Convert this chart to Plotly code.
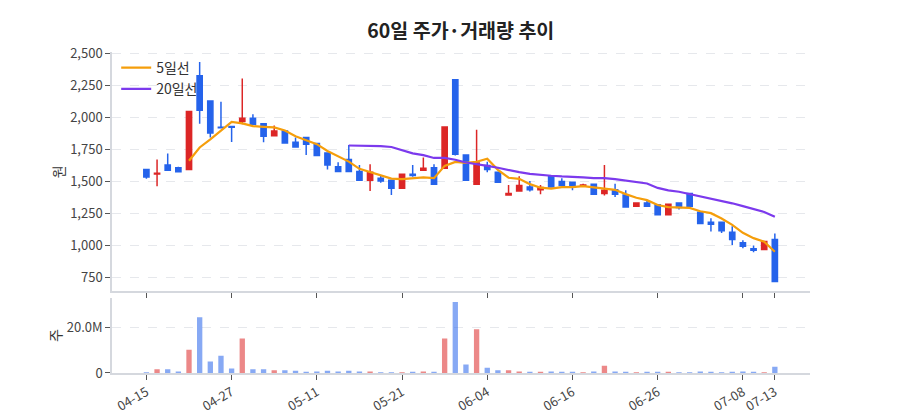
import plotly.graph_objects as go
import pandas as pd

dates = [
    "04-15", "04-16", "04-17", "04-20", "04-21", "04-22", "04-23", "04-24", "04-27",
    "04-28", "04-29", "04-30", "05-04", "05-06", "05-07", "05-08", "05-11",
    "05-12", "05-13", "05-14", "05-15", "05-18", "05-19", "05-20", "05-21",
    "05-22", "05-25", "05-26", "05-27", "05-28", "06-02", "06-03", "06-04",
    "06-05", "06-08", "06-09", "06-10", "06-11", "06-12", "06-15", "06-16",
    "06-17", "06-18", "06-19", "06-22", "06-23", "06-24", "06-25", "06-26",
    "06-29", "06-30", "07-01", "07-02", "07-03", "07-06", "07-07", "07-08",
    "07-09", "07-10", "07-13",
]

open_ = [1594, 1560, 1630, 1609, 1594, 2328, 2130, 1925, 1930, 1969,
         1995, 1953, 1859, 1896, 1807, 1844, 1797, 1724, 1615, 1672,
         1578, 1510, 1526, 1510, 1448, 1557, 1589, 1609, 1604, 2297,
         1708, 1479, 1625, 1573, 1396, 1427, 1458, 1437, 1542, 1500,
         1495, 1464, 1479, 1406, 1437, 1396, 1307, 1333, 1318, 1240,
         1333, 1406, 1260, 1182, 1182, 1104, 1021, 974, 969, 1047]
high = [1598, 1672, 1719, 1615, 2047, 2435, 2130, 2125, 1935, 2305,
        2026, 1953, 1938, 1896, 1844, 1844, 1800, 1724, 1651, 1786,
        1630, 1635, 1547, 1516, 1557, 1630, 1688, 1635, 1927, 2297,
        1708, 1906, 1656, 1573, 1474, 1542, 1505, 1474, 1542, 1526,
        1495, 1484, 1484, 1630, 1484, 1432, 1338, 1349, 1318, 1328,
        1333, 1406, 1260, 1214, 1182, 1151, 1042, 1000, 1031, 1094]
low = [1523, 1464, 1583, 1573, 1594, 1953, 1844, 1915, 1810, 1948,
       1948, 1807, 1859, 1802, 1771, 1708, 1703, 1594, 1578, 1573,
       1505, 1427, 1490, 1396, 1448, 1537, 1589, 1479, 1599, 1703,
       1505, 1479, 1573, 1495, 1396, 1427, 1422, 1401, 1458, 1465,
       1432, 1458, 1401, 1391, 1380, 1297, 1302, 1307, 1235, 1240,
       1281, 1307, 1172, 1110, 1099, 1005, 979, 948, 969, 719]
close = [1536, 1565, 1589, 1576, 2047, 2057, 1880, 1920, 1925, 1995,
         1948, 1854, 1896, 1802, 1771, 1792, 1703, 1630, 1578, 1578,
         1510, 1573, 1505, 1448, 1557, 1547, 1604, 1479, 1927, 1714,
         1510, 1645, 1594, 1495, 1406, 1469, 1437, 1453, 1458, 1469,
         1469, 1474, 1401, 1432, 1401, 1302, 1333, 1307, 1240, 1323,
         1297, 1307, 1172, 1167, 1115, 1047, 995, 964, 1031, 719]
volume_m = [0.3, 1.6, 1.6, 0.7, 10.1, 24.3, 5.0, 7.5, 2.0, 15.0,
            1.6, 1.6, 1.2, 1.2, 1.0, 0.6, 0.7, 1.0, 0.7, 1.0,
            0.7, 0.7, 0.3, 0.3, 0.3, 0.6, 0.7, 0.6, 15.0, 30.9,
            3.7, 19.1, 2.3, 1.2, 1.2, 0.7, 0.6, 0.6, 0.7, 0.6,
            0.6, 0.3, 0.7, 3.2, 0.7, 0.6, 0.3, 0.6, 0.6, 0.6,
            0.3, 0.3, 0.7, 0.6, 0.3, 0.6, 0.7, 0.6, 0.3, 2.7]

tick_dates = ["04-15", "04-27", "05-11", "05-21", "06-04", "06-16", "06-26", "07-08", "07-13"]
price_ticks = [750, 1000, 1250, 1500, 1750, 2000, 2250, 2500]

RED = "#dc2626"
BLUE = "#2563eb"
RED_V = "rgba(220,38,38,0.55)"
BLUE_V = "rgba(37,99,235,0.55)"
ORANGE = "#f59e0b"
PURPLE = "#7c3aed"
FONT = "Noto Sans CJK KR"

volume = [v * 1e6 for v in volume_m]
ma5 = pd.Series(close).rolling(5).mean()
ma20 = pd.Series(close).rolling(20).mean()
vol_colors = [RED_V if c >= o else BLUE_V for o, c in zip(open_, close)]

fig = go.Figure()
fig.add_trace(go.Candlestick(
    x=dates, open=open_, high=high, low=low, close=close,
    increasing=dict(line=dict(color=RED, width=1.5), fillcolor=RED),
    decreasing=dict(line=dict(color=BLUE, width=1.5), fillcolor=BLUE),
    showlegend=False, xaxis="x", yaxis="y",
))
fig.add_trace(go.Scatter(x=dates, y=ma5, mode="lines", name="5일선",
                         line=dict(color=ORANGE, width=2.2), xaxis="x", yaxis="y"))
fig.add_trace(go.Scatter(x=dates, y=ma20, mode="lines", name="20일선",
                         line=dict(color=PURPLE, width=2.2), xaxis="x", yaxis="y"))
fig.add_trace(go.Bar(x=dates, y=volume, marker=dict(color=vol_colors, line=dict(width=0)),
                     width=0.5, showlegend=False, xaxis="x2", yaxis="y2"))

xrange = [-3.23, 62.3]
axis_common = dict(showline=True, linecolor="#d5d8de", linewidth=1.5, automargin=False,
                   ticks="outside", ticklen=5, tickcolor="#555", tickwidth=1,
                   tickfont=dict(family=FONT, size=13, color="#444"))

fig.update_layout(
    width=900, height=420,
    margin=dict(l=112, r=90, t=52, b=47),
    paper_bgcolor="white", plot_bgcolor="white",
    font=dict(family=FONT, color="#333"),
    title=dict(text="<b>60일 주가·거래량 추이</b>", x=0.512, xanchor="center", y=0.925, yanchor="middle",
               font=dict(family=FONT, size=19.5, color="#222")),
    legend=dict(x=0.006, y=1.0, xanchor="left", yanchor="top", bgcolor="rgba(0,0,0,0)",
                font=dict(family=FONT, size=14, color="#333"), tracegroupgap=0),
    showlegend=True,
    xaxis=dict(type="category", domain=[0, 1], anchor="y", range=xrange,
               categoryorder="array", categoryarray=dates,
               tickvals=tick_dates, showticklabels=False, showgrid=False,
               rangeslider=dict(visible=False), matches="x2", **axis_common),
    yaxis=dict(domain=[0.254, 1], range=[641, 2513], tickvals=price_ticks, tickformat=",d",
               showgrid=True, gridcolor="#e6e8ec", griddash="dash", gridwidth=1, zeroline=False,
               title=dict(text="원", font=dict(family=FONT, size=14, color="#333"), standoff=2),
               **axis_common),
    xaxis2=dict(type="category", domain=[0, 1], anchor="y2", range=xrange,
                categoryorder="array", categoryarray=dates,
                tickvals=tick_dates, ticktext=tick_dates, tickangle=-30, showgrid=False,
                **axis_common),
    yaxis2=dict(domain=[0, 0.233], range=[0, 32.6e6], tickvals=[0, 20e6], ticktext=["0", "20.0M"],
                showgrid=True, gridcolor="#e6e8ec", griddash="dash", gridwidth=1, zeroline=False,
                title=dict(text="주", font=dict(family=FONT, size=14, color="#333"), standoff=2),
                **axis_common),
    bargap=0.5,
)

fig.write_html("out.html")
